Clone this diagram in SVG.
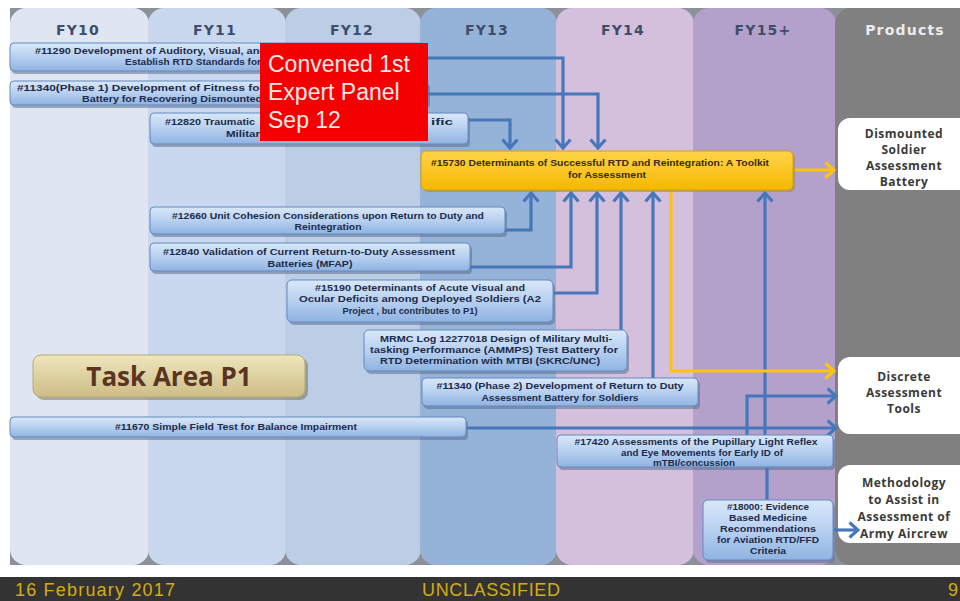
<svg xmlns="http://www.w3.org/2000/svg" width="960" height="601" viewBox="0 0 960 601">
  <defs>
    <linearGradient id="barFill" x1="0" y1="0" x2="0" y2="1">
      <stop offset="0" stop-color="#d9e8f9"/>
      <stop offset="0.5" stop-color="#b7d0f0"/>
      <stop offset="1" stop-color="#8fb3e2"/>
    </linearGradient>
    <linearGradient id="goldFill" x1="0" y1="0" x2="0" y2="1">
      <stop offset="0" stop-color="#ffd34a"/>
      <stop offset="1" stop-color="#f5b800"/>
    </linearGradient>
    <linearGradient id="tanFill" x1="0" y1="0" x2="0" y2="1">
      <stop offset="0" stop-color="#efe6bd"/>
      <stop offset="1" stop-color="#cdbd86"/>
    </linearGradient>
    <marker id="chev" viewBox="0 0 12 18" refX="10" refY="9" markerWidth="12" markerHeight="18" markerUnits="userSpaceOnUse" orient="auto">
      <path d="M1.5,1.5 L10,9 L1.5,16.5" fill="none" stroke="#4677ba" stroke-width="3.2" stroke-linejoin="miter"/>
    </marker>
    <marker id="chevGold" viewBox="0 0 12 18" refX="10" refY="9" markerWidth="12" markerHeight="18" markerUnits="userSpaceOnUse" orient="auto">
      <path d="M1.5,1.5 L10,9 L1.5,16.5" fill="none" stroke="#ffc20e" stroke-width="3.2"/>
    </marker>
  </defs>
  <style>
    .hdr { font-family: "DejaVu Sans", Verdana, sans-serif; font-weight: bold; font-size: 14px; fill: #3d4d6b; text-anchor: middle; letter-spacing: 1.2px; }
    .bar { fill: url(#barFill); stroke: #6489bd; stroke-width: 1; }
    .shadow { fill: #5c6f8c; opacity: 0.55; }
    .t { font-family: "Liberation Sans", Arial, sans-serif; font-weight: bold; font-size: 8.5px; fill: #1d2b4a; }
    .c { text-anchor: middle; }
    .link { fill: none; stroke: #4677ba; stroke-width: 3.2; }
    .linkGold { fill: none; stroke: #ffc20e; stroke-width: 3.2; }
    .prod { fill: #ffffff; }
    .pt { font-family: "Open Sans", "Liberation Sans", sans-serif; font-weight: bold; font-size: 12px; fill: #3a3a3a; text-anchor: middle; letter-spacing: 0.5px; }
    .red { font-family: "Liberation Sans", Arial, sans-serif; font-size: 23px; fill: #ffe9e6; }
    .foot { font-family: "Liberation Sans", Arial, sans-serif; font-size: 18px; fill: #d6ad10; }
  </style>

  <!-- page background -->
  <rect x="0" y="0" width="960" height="601" fill="#ffffff"/>
  <rect x="10" y="8" width="950" height="557" fill="#8c9199"/>

  <!-- year columns -->
  <g id="columns">
    <rect x="10" y="8" width="139" height="557" rx="16" fill="#dfe6f2"/>
    <rect x="148" y="8" width="138" height="557" rx="16" fill="#c9d8ee"/>
    <rect x="285" y="8" width="136" height="557" rx="16" fill="#bccee6"/>
    <rect x="420" y="8" width="137" height="557" rx="16" fill="#95b2d8"/>
    <rect x="556" y="8" width="138" height="557" rx="16" fill="#d4c0dd"/>
    <rect x="693" y="8" width="143" height="557" rx="16" fill="#b3a1cc"/>
    <rect x="835" y="8" width="150" height="557" rx="16" fill="#808080"/>
    <text class="hdr" x="78" y="35">FY10</text>
    <text class="hdr" x="215" y="35">FY11</text>
    <text class="hdr" x="352" y="35">FY12</text>
    <text class="hdr" x="487" y="35">FY13</text>
    <text class="hdr" x="623" y="35">FY14</text>
    <text class="hdr" x="763" y="35">FY15+</text>
    <text class="hdr" x="905" y="35" style="fill:#ececec">Products</text>
  </g>

  <!-- footer band -->
  <g id="footer">
    <rect x="0" y="577" width="960" height="24" fill="#333333"/>
    <text class="foot" x="15" y="596" textLength="160">16 February 2017</text>
    <text class="foot" x="422" y="596" textLength="138">UNCLASSIFIED</text>
    <text class="foot" x="948" y="596">9</text>
  </g>

  <!-- connectors -->
  <g id="connectors">
    <path class="link" d="M425,58 H563 V148" marker-end="url(#chev)"/>
    <path class="link" d="M428,94 H598 V148" marker-end="url(#chev)"/>
    <path class="link" d="M468,120 H510 V148" marker-end="url(#chev)"/>
    <path class="link" d="M505,230 H531 V193" marker-end="url(#chev)"/>
    <path class="link" d="M470,267 H571 V193" marker-end="url(#chev)"/>
    <path class="link" d="M554,293 H597 V193" marker-end="url(#chev)"/>
    <path class="link" d="M621,332 V193" marker-end="url(#chev)"/>
    <path class="link" d="M653,380 V193" marker-end="url(#chev)"/>
    <path class="link" d="M765,437 V193" marker-end="url(#chev)"/>
    <path class="link" d="M467,428 H836" marker-end="url(#chev)"/>
    <path class="link" d="M747,437 V396 H836" marker-end="url(#chev)"/>
    <path class="link" d="M767,468 V502"/>
    <path class="linkGold" d="M793,170 H834" marker-end="url(#chevGold)"/>
    <path class="linkGold" d="M671,190 V371 H834" marker-end="url(#chevGold)"/>
  </g>

  <!-- project bars -->
  <g id="n11290">
    <rect class="shadow" x="12" y="46" width="415" height="28" rx="4"/>
    <rect class="bar" x="10" y="43" width="415" height="28" rx="4"/>
    <text class="t" x="35" y="54" textLength="231" lengthAdjust="spacingAndGlyphs">#11290 Development of Auditory, Visual, and</text>
    <text class="t" x="125" y="65" textLength="136" lengthAdjust="spacingAndGlyphs">Establish RTD Standards for</text>
  </g>
  <g id="n11340a">
    <rect class="shadow" x="12" y="84" width="418" height="24" rx="4"/>
    <rect class="bar" x="10" y="81" width="418" height="24" rx="4"/>
    <text class="t" x="17" y="91" textLength="247" lengthAdjust="spacingAndGlyphs">#11340(Phase 1) Development of Fitness for</text>
    <text class="t" x="82" y="102" textLength="180" lengthAdjust="spacingAndGlyphs">Battery for Recovering Dismounted</text>
  </g>
  <g id="n12820">
    <rect class="shadow" x="152" y="116" width="318" height="31" rx="4"/>
    <rect class="bar" x="150" y="113" width="318" height="31" rx="4"/>
    <text class="t" x="165" y="125" textLength="90" lengthAdjust="spacingAndGlyphs">#12820 Traumatic</text>
    <text class="t" x="431" y="125" textLength="22" lengthAdjust="spacingAndGlyphs">ific</text>
    <text class="t" x="226" y="137" textLength="34" lengthAdjust="spacingAndGlyphs">Militar</text>
  </g>

  <!-- convened panel callout -->
  <g id="panel">
    <rect x="260" y="43" width="168" height="98" fill="#f50000"/>
    <text class="red" x="268" y="72">Convened 1st</text>
    <text class="red" x="268" y="100">Expert Panel</text>
    <text class="red" x="268" y="128">Sep 12</text>
  </g>

  <g id="n15730">
    <rect x="423" y="153" width="372" height="39" rx="5" fill="#9a8a5a" opacity="0.6"/>
    <rect x="421" y="151" width="372" height="39" rx="5" fill="url(#goldFill)" stroke="#d9a000" stroke-width="1"/>
    <text class="t c" x="600" y="166" textLength="338" lengthAdjust="spacingAndGlyphs" style="fill:#3a2c00">#15730 Determinants of Successful RTD and Reintegration: A Toolkit</text>
    <text class="t c" x="607" y="178" textLength="78" lengthAdjust="spacingAndGlyphs" style="fill:#3a2c00">for Assessment</text>
  </g>

  <g id="n12660">
    <rect class="shadow" x="152" y="210" width="355" height="27" rx="4"/>
    <rect class="bar" x="150" y="207" width="355" height="27" rx="4"/>
    <text class="t c" x="328" y="219" textLength="312" lengthAdjust="spacingAndGlyphs">#12660 Unit Cohesion Considerations upon Return to Duty and</text>
    <text class="t c" x="328" y="230" textLength="67" lengthAdjust="spacingAndGlyphs">Reintegration</text>
  </g>
  <g id="n12840">
    <rect class="shadow" x="152" y="246" width="320" height="28" rx="4"/>
    <rect class="bar" x="150" y="243" width="320" height="28" rx="4"/>
    <text class="t c" x="309" y="255" textLength="292" lengthAdjust="spacingAndGlyphs">#12840 Validation of Current Return-to-Duty Assessment</text>
    <text class="t c" x="310" y="267" textLength="85" lengthAdjust="spacingAndGlyphs">Batteries (MFAP)</text>
  </g>
  <g id="n15190">
    <rect class="shadow" x="289" y="283" width="266" height="42" rx="5"/>
    <rect class="bar" x="287" y="280" width="266" height="42" rx="5"/>
    <text class="t c" x="420" y="291" textLength="210" lengthAdjust="spacingAndGlyphs">#15190 Determinants of Acute Visual and</text>
    <text class="t c" x="420" y="302" textLength="242" lengthAdjust="spacingAndGlyphs">Ocular Deficits among Deployed Soldiers (A2</text>
    <text class="t c" x="410" y="314" textLength="135" lengthAdjust="spacingAndGlyphs">Project , but contributes to P1)</text>
  </g>
  <g id="nMRMC">
    <rect class="shadow" x="366" y="333" width="263" height="41" rx="5"/>
    <rect class="bar" x="364" y="330" width="263" height="41" rx="5"/>
    <text class="t c" x="496" y="342" textLength="232" lengthAdjust="spacingAndGlyphs">MRMC Log 12277018 Design of Military Multi-</text>
    <text class="t c" x="494" y="353" textLength="248" lengthAdjust="spacingAndGlyphs">tasking Performance (AMMPS) Test Battery for</text>
    <text class="t c" x="490" y="364" textLength="220" lengthAdjust="spacingAndGlyphs">RTD Determination with MTBI (SKRC/UNC)</text>
  </g>
  <g id="n11340b">
    <rect class="shadow" x="424" y="381" width="276" height="28" rx="4"/>
    <rect class="bar" x="422" y="378" width="276" height="28" rx="4"/>
    <text class="t c" x="560" y="389" textLength="247" lengthAdjust="spacingAndGlyphs">#11340 (Phase 2) Development of Return to Duty</text>
    <text class="t c" x="560" y="401" textLength="157" lengthAdjust="spacingAndGlyphs">Assessment Battery for Soldiers</text>
  </g>
  <g id="n11670">
    <rect class="shadow" x="12" y="420" width="456" height="20" rx="4"/>
    <rect class="bar" x="10" y="417" width="456" height="20" rx="4"/>
    <text class="t c" x="236" y="430" textLength="242" lengthAdjust="spacingAndGlyphs">#11670 Simple Field Test for Balance Impairment</text>
  </g>
  <g id="n17420">
    <rect class="shadow" x="559" y="438" width="276" height="32" rx="4"/>
    <rect class="bar" x="557" y="435" width="276" height="32" rx="4"/>
    <text class="t c" x="696" y="445" textLength="243" lengthAdjust="spacingAndGlyphs">#17420 Assessments of the Pupillary Light Reflex</text>
    <text class="t c" x="702" y="456" textLength="162" lengthAdjust="spacingAndGlyphs">and Eye Movements for Early ID of</text>
    <text class="t c" x="694" y="466" textLength="82" lengthAdjust="spacingAndGlyphs">mTBI/concussion</text>
  </g>
  <g id="n18000">
    <rect class="shadow" x="705" y="503" width="130" height="60" rx="5"/>
    <rect class="bar" x="703" y="500" width="130" height="60" rx="5"/>
    <text class="t c" x="768" y="510" textLength="82" lengthAdjust="spacingAndGlyphs">#18000: Evidence</text>
    <text class="t c" x="768" y="521" textLength="78" lengthAdjust="spacingAndGlyphs">Based Medicine</text>
    <text class="t c" x="768" y="532" textLength="96" lengthAdjust="spacingAndGlyphs">Recommendations</text>
    <text class="t c" x="768" y="543" textLength="102" lengthAdjust="spacingAndGlyphs">for Aviation RTD/FFD</text>
    <text class="t c" x="768" y="554" textLength="36" lengthAdjust="spacingAndGlyphs">Criteria</text>
  </g>

  <!-- task area label -->
  <g id="taskArea">
    <rect x="36" y="358" width="272" height="42" rx="8" fill="#6f6a55" opacity="0.5"/>
    <rect x="33" y="355" width="272" height="42" rx="8" fill="url(#tanFill)" stroke="#b9a870" stroke-width="1"/>
    <text x="169" y="386" text-anchor="middle" font-family="'Open Sans', Lato, sans-serif" font-weight="bold" font-size="26" fill="#5b3422">Task Area P1</text>
  </g>

  <!-- product boxes -->
  <g id="prodBattery">
    <rect class="prod" x="838" y="118" width="140" height="72" rx="12"/>
    <text class="pt" x="904" y="138">Dismounted</text>
    <text class="pt" x="904" y="154">Soldier</text>
    <text class="pt" x="904" y="170">Assessment</text>
    <text class="pt" x="904" y="186">Battery</text>
  </g>
  <g id="prodTools">
    <rect class="prod" x="838" y="357" width="140" height="77" rx="12"/>
    <text class="pt" x="904" y="381">Discrete</text>
    <text class="pt" x="904" y="397">Assessment</text>
    <text class="pt" x="904" y="413">Tools</text>
  </g>
  <g id="prodAircrew">
    <rect class="prod" x="838" y="465" width="140" height="78" rx="12"/>
    <text class="pt" x="904" y="487">Methodology</text>
    <text class="pt" x="904" y="504">to Assist in</text>
    <text class="pt" x="904" y="521">Assessment of</text>
    <text class="pt" x="904" y="538">Army Aircrew</text>
  </g>

  <!-- short link into the aircrew product, drawn above its box -->
  <path class="link" d="M834,530 H858" marker-end="url(#chev)"/>
</svg>
